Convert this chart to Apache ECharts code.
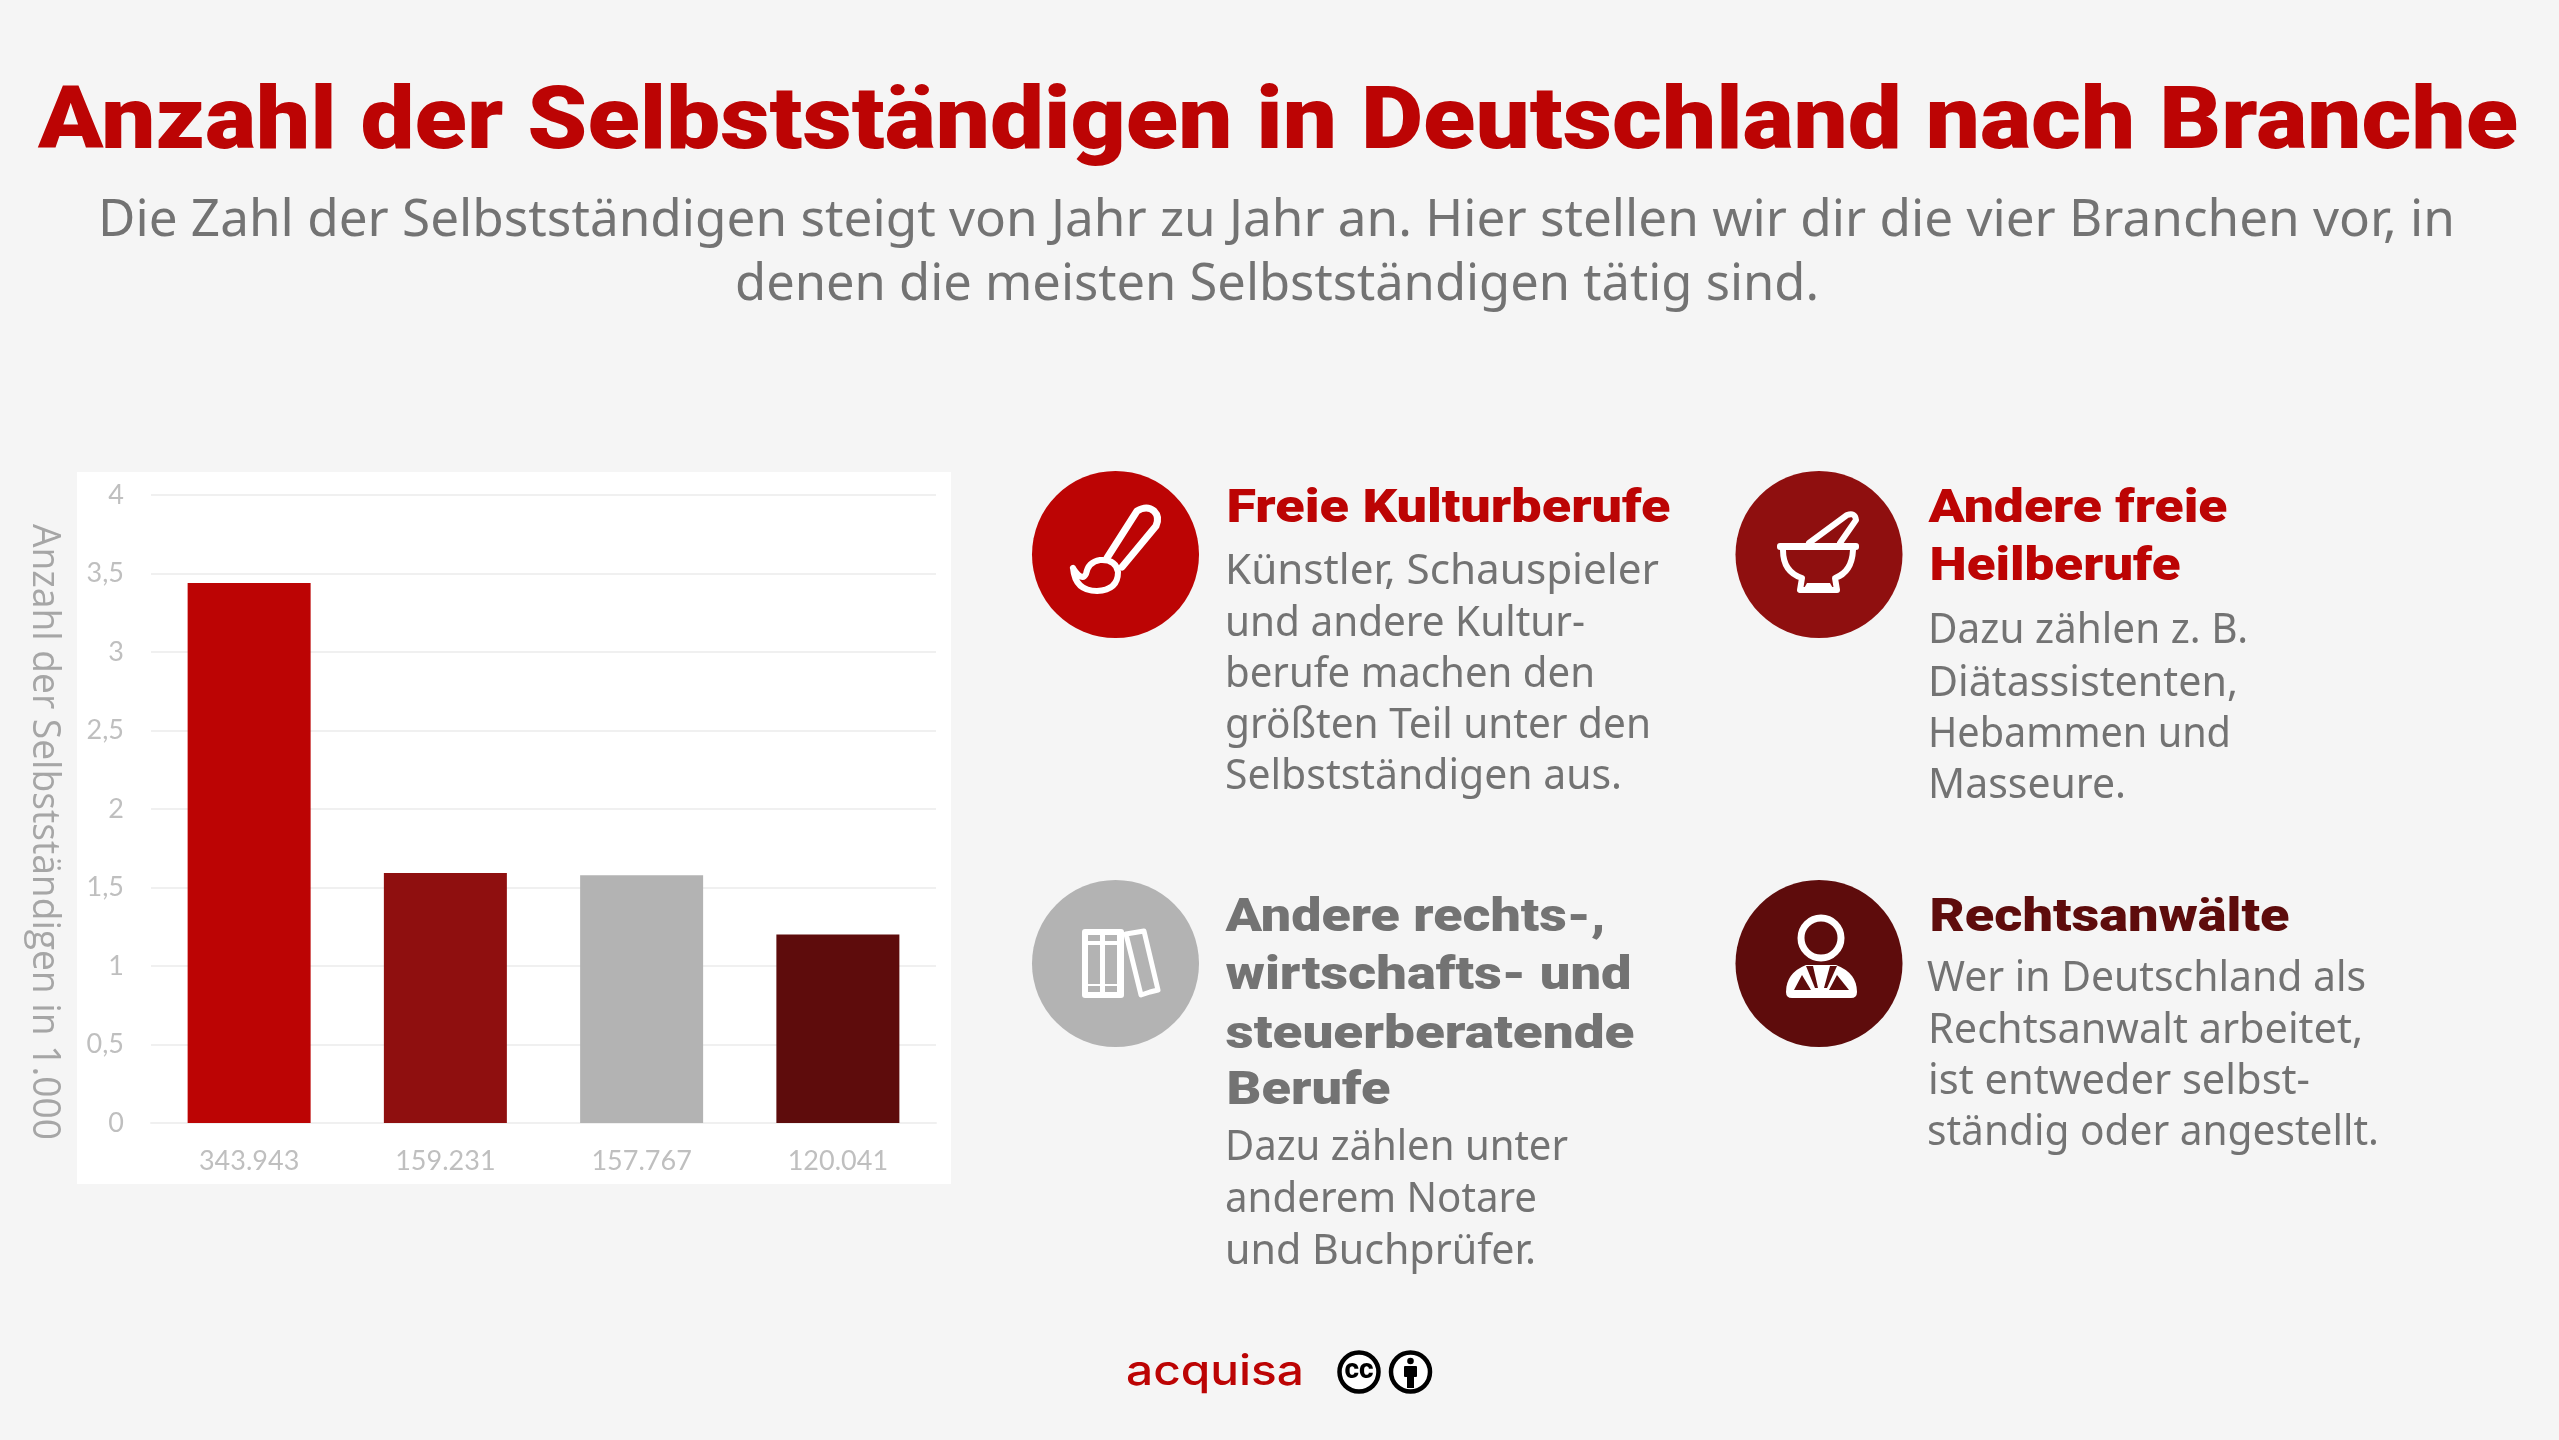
<!DOCTYPE html>
<html><head><meta charset="utf-8">
<script src="https://cdn.jsdelivr.net/npm/echarts@6/dist/echarts.min.js"></script>
<style>html,body{margin:0;padding:0;background:#f5f5f5}#c{width:2559px;height:1440px}</style>
</head><body><div id="c"></div>
<script>
const categories = ['343.943','159.231','157.767','120.041'];
const values = [3.43943,1.59231,1.57767,1.20041];
const barColors = ['#bc0404','#8f0f0f','#b3b3b3','#5e0c0c'];
const yTicks = [0,0.5,1,1.5,2,2.5,3,3.5,4];
const yAxisTitle = 'Anzahl der Selbstständigen in 1.000';
const mainTitle = 'Anzahl der Selbstständigen in Deutschland nach Branche';

const HEAD = 'Roboto', BODY = 'Noto Sans';
const mctx = document.createElement('canvas').getContext('2d');
function T(x, base, str, size, weight, family, color, width, align) {
  mctx.font = weight + ' ' + size + 'px "' + family + '"';
  const w = mctx.measureText(str).width;
  const s = width ? width / w : 1;
  const k = family === HEAD ? 0.22 : 0.29;
  return {type:'text', x:x, y:base - k*size, scaleX:s, silent:true, z:5,
    style:{text:str, fontSize:size, fontWeight:weight, fontFamily:family, fill:color,
           align:align||'left', verticalAlign:'middle'}};
}
const RED='#bc0404', GREY='#737373';
const B=(x,base,str,width)=>T(x-2,base,str,41,400,BODY,GREY,width+3);
const H=(x,base,str,color,width)=>T(x-1.5,base,str,47,900,HEAD,color,width+2);
const texts = [
  T(38,145,mainTitle,88,900,HEAD,RED,2480),
  T(1276.5,236,'Die Zahl der Selbstständigen steigt von Jahr zu Jahr an. Hier stellen wir dir die vier Branchen vor, in',51,400,BODY,GREY,2357,'center'),
  T(1277,300,'denen die meisten Selbstständigen tätig sind.',51,400,BODY,GREY,1084,'center'),
  H(1228,521,'Freie Kulturberufe',RED,442),
  B(1227,584,'Künstler, Schauspieler',431),
  B(1227,636,'und andere Kultur-',357),
  B(1227,687,'berufe machen den',367),
  B(1227,738,'größten Teil unter den',423),
  B(1227,789,'Selbstständigen aus.',394),
  H(1930,521,'Andere freie',RED,297),
  H(1931,579,'Heilberufe',RED,249),
  B(1930,643,'Dazu zählen z. B.',317),
  B(1930,696,'Diätassistenten,',307),
  B(1930,747,'Hebammen und',300),
  B(1930,798,'Masseure.',195),
  H(1227,930,'Andere rechts-,',GREY,378),
  H(1227,988,'wirtschafts- und',GREY,404),
  H(1227,1047,'steuerberatende',GREY,407),
  H(1228,1103,'Berufe',GREY,162),
  B(1227,1160,'Dazu zählen unter',340),
  B(1227,1212,'anderem Notare',309),
  B(1227,1264,'und Buchprüfer.',308),
  H(1931,930,'Rechtsanwälte','#5e0c0c',358),
  B(1929,991,'Wer in Deutschland als',436),
  B(1930,1043,'Rechtsanwalt arbeitet,',432),
  B(1930,1094,'ist entweder selbst-',379),
  B(1929,1145,'ständig oder angestellt.',449),
  T(1126,1385,'acquisa',42,500,'Inter',RED,178)
];
mctx.font='400 38px "Open Sans"';
texts.push({type:'text', x:44, y:832, rotation:-Math.PI/2, silent:true, z:5,
  scaleX:616/mctx.measureText(yAxisTitle).width,
  style:{text:yAxisTitle,fontSize:38,fontWeight:400,fontFamily:'Open Sans',fill:'#a6a6a6',align:'center',verticalAlign:'middle'}});

const W='#fff';
let pid=0;
function reg(d){const n='iconPath'+(pid++);echarts.graphic.registerShape(n,echarts.graphic.extendPath(d,{}));return n;}
const circle=(cx,cy,r,fill)=>({type:'circle',silent:true,z:1,shape:{cx,cy,r},style:{fill}});
const stroke=(d,lw)=>({type:reg(d),silent:true,z:2,style:{fill:'none',stroke:W,lineWidth:lw||6,lineJoin:'round',lineCap:'round'}});
const fillP=(d,c)=>({type:reg(d),silent:true,z:3,style:{fill:c}});
const rect=(x,y,w,h,c,r,z)=>({type:'rect',silent:true,z:z||3,shape:{x,y,width:w,height:h,r:r||0},style:{fill:c}});
const poly=(pts,c,z)=>({type:'polygon',silent:true,z:z||3,shape:{points:pts},style:{fill:c}});

const icons=[
  circle(1115.5,554.5,83.5,'#bc0404'),
  stroke('M1107,558 L1137,511 Q1147,505 1154,511 Q1160,517 1156,526 L1122,567',7),
  stroke('M1073,568 Q1075,591 1097,591 Q1118,590 1118,572 Q1116,559 1100,560 Q1088,562 1086,574 Q1082,582 1073,568',6),

  circle(1819,554.5,83.5,'#8f0f0f'),
  rect(1777,543,82,7,W,3,2),
  stroke('M1783,550 Q1783,572 1802,578 L1800,590 L1837,590 L1835,578 Q1852,572 1853,550',6),
  stroke('M1809,543 L1847,515 Q1855,512 1856,520 L1840,543',6),
  poly([[1807,583],[1830,583],[1834,590],[1803,590]],W,2),

  circle(1115.5,963.5,83.5,'#b3b3b3'),
  rect(1082,929,42,69,W,3,2),
  rect(1088,935,12,6,'#b3b3b3'),rect(1105,935,12,6,'#b3b3b3'),
  rect(1088,945,12,39,'#b3b3b3'),rect(1105,945,12,39,'#b3b3b3'),
  rect(1088,986,12,6,'#b3b3b3'),rect(1105,986,12,6,'#b3b3b3'),
  stroke('M1126,934 L1144,931 L1158,990 L1150,992 L1141,995 Z',5),

  circle(1819,963.5,83.5,'#5e0c0c'),
  {type:'circle',silent:true,z:2,shape:{cx:1821,cy:938,r:20},style:{fill:'none',stroke:W,lineWidth:7}},
  fillP('M1786,992 Q1786,973 1806,965 L1836,965 Q1857,973 1857,992 Q1857,998 1851,998 L1792,998 Q1786,998 1786,992Z',W),
  poly([[1794,990],[1802,975],[1811,990]],'#5e0c0c',4),
  poly([[1829,990],[1837,975],[1849,990]],'#5e0c0c',4),
  poly([[1806,966],[1813,966],[1818,988],[1815,988]],'#5e0c0c',4),
  poly([[1830,966],[1837,966],[1827,988],[1824,988]],'#5e0c0c',4),

  {type:'circle',silent:true,z:2,shape:{cx:1359,cy:1372,r:19.5},style:{fill:W,stroke:'#000',lineWidth:4.5}},
  {type:'text',silent:true,z:3,x:1359,y:1371,style:{text:'cc',fontSize:28,fontWeight:800,fontFamily:'Roboto',fill:'#000',align:'center',verticalAlign:'middle'}},
  {type:'circle',silent:true,z:2,shape:{cx:1410.5,cy:1372,r:19.5},style:{fill:W,stroke:'#000',lineWidth:4.5}},
  {type:'circle',silent:true,z:3,shape:{cx:1410.5,cy:1361,r:3.3},style:{fill:'#000'}},
  rect(1404,1366,13,11,'#000',1),rect(1407,1376,7,12,'#000')
];

const chart = echarts.init(document.getElementById('c'), null, {renderer:'canvas'});
chart.setOption({
  backgroundColor:'#f5f5f5',
  animation:false,
  grid:{left:151,right:2559-936,top:495,bottom:1440-1123},
  xAxis:{type:'category',data:categories,axisTick:{show:false},
    axisLine:{lineStyle:{color:'#f0f0f0',width:2}},
    axisLabel:{color:'#bfbfbf',fontSize:27,fontFamily:'Lato',fontWeight:400,margin:25}},
  yAxis:{type:'value',min:yTicks[0],max:yTicks[yTicks.length-1],interval:yTicks[1],
    axisLine:{show:false},axisTick:{show:false},
    splitLine:{lineStyle:{color:'#f0f0f0',width:2}},
    axisLabel:{color:'#bfbfbf',fontSize:27,fontFamily:'Lato',fontWeight:400,margin:27,
      formatter:v=>String(v).replace('.',',')}},
  series:[{type:'bar',barWidth:123,
    data:values.map((v,i)=>({value:v,itemStyle:{color:barColors[i]}}))}],
  graphic:{elements:[
    {type:'rect',silent:true,z:-10,shape:{x:77,y:472,width:874,height:712},style:{fill:'#fff'}},
    ...icons,...texts]}
});
</script></body></html>
